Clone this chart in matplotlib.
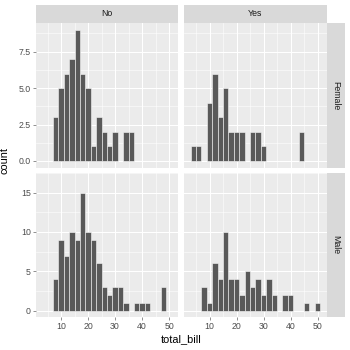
import numpy as np
import matplotlib
matplotlib.use("Agg")
import matplotlib.pyplot as plt

# histogram bins (binwidth 2, centred on even numbers)
bin_centers = np.arange(4, 52, 2)
col_labels = ["No", "Yes"]
row_labels = ["Female", "Male"]

female_no = [0, 0, 3, 5, 6, 7, 9, 6, 5, 1, 3, 2, 1, 2, 0, 2, 2, 0, 0, 0, 0, 0, 0, 0]
female_yes = [1, 1, 0, 4, 6, 3, 5, 2, 2, 2, 0, 2, 2, 1, 0, 0, 0, 0, 0, 0, 2, 0, 0, 0]
male_no = [0, 0, 4, 9, 7, 10, 9, 15, 10, 9, 6, 3, 2, 3, 3, 1, 0, 1, 1, 1, 0, 0, 3, 0]
male_yes = [0, 0, 3, 1, 6, 4, 10, 4, 4, 2, 5, 3, 4, 2, 4, 2, 0, 2, 2, 0, 0, 1, 0, 1]

counts = [[female_no, female_yes], [male_no, male_yes]]
y_ticks = [[0, 2.5, 5, 7.5], [0, 5, 10, 15]]
y_ticklabels = [["0.0", "2.5", "5.0", "7.5"], ["0", "5", "10", "15"]]
x_ticks = [10, 20, 30, 40, 50]

plt.rcParams['font.family'] = ['Liberation Sans', 'DejaVu Sans']

W = H = 350
fig = plt.figure(figsize=(W / 72, H / 72), dpi=72)
fig.patch.set_facecolor("white")

def box(x0, y0, x1, y1):
    # pixel box (top-left origin) -> figure fraction
    return [x0 / W, 1 - y1 / H, (x1 - x0) / W, (y1 - y0) / H]

col_x = [(35.7, 178.2), (184.2, 326.7)]
row_y = [(23.3, 167.5), (172.8, 316.7)]
binw = 2

for r in range(2):
    ymax = max(max(counts[r][0]), max(counts[r][1]))
    pad = ymax * 0.05
    for c in range(2):
        ax = fig.add_axes(box(col_x[c][0], row_y[r][0], col_x[c][1], row_y[r][1]))
        ax.set_facecolor("#EBEBEB")
        for s in ax.spines.values():
            s.set_visible(False)
        ax.bar(bin_centers, counts[r][c], width=binw, color="#595959",
               edgecolor="white", linewidth=0.5, zorder=3)
        ax.set_xlim(3 - 2.4, 51 + 2.4)
        ax.set_ylim(-pad, ymax + pad)
        ax.set_xticks(x_ticks)
        ax.set_xticks([5, 15, 25, 35, 45], minor=True)
        ax.set_yticks(y_ticks[r])
        step = y_ticks[r][1] - y_ticks[r][0]
        ax.set_yticks([v + step / 2 for v in y_ticks[r]], minor=True)
        ax.grid(which="major", color="white", linewidth=1.07, zorder=0)
        ax.grid(which="minor", color="white", linewidth=0.53, zorder=0)
        ax.set_axisbelow(True)
        ax.tick_params(which="major", length=2.75, width=0.53, color="#333333",
                       labelsize=8.8, labelcolor="#4D4D4D", pad=2.2)
        ax.tick_params(which="minor", length=0)
        if c == 0:
            ax.set_yticklabels(y_ticklabels[r])
        else:
            ax.tick_params(axis="y", which="major", length=0, labelleft=False)
        if r == 1:
            ax.set_xticklabels([str(v) for v in x_ticks])
        else:
            ax.tick_params(axis="x", which="major", length=0, labelbottom=False)

# column strips
for c in range(2):
    sax = fig.add_axes(box(col_x[c][0], 5.0, col_x[c][1], 22.7))
    sax.set_facecolor("#D9D9D9")
    sax.set_xticks([]); sax.set_yticks([])
    for s in sax.spines.values():
        s.set_visible(False)
    sax.text(0.5, 0.5, col_labels[c], ha="center", va="center",
             fontsize=8.8, color="#1A1A1A", transform=sax.transAxes)

# row strips
for r in range(2):
    sax = fig.add_axes(box(326.9, row_y[r][0], 344.6, row_y[r][1]))
    sax.set_facecolor("#D9D9D9")
    sax.set_xticks([]); sax.set_yticks([])
    for s in sax.spines.values():
        s.set_visible(False)
    sax.text(0.5, 0.5, row_labels[r], ha="center", va="center", rotation=-90,
             fontsize=8.8, color="#1A1A1A", transform=sax.transAxes)

fig.text(181 / W, 1 - 339.5 / H, "total_bill", ha="center", va="center", fontsize=11)
fig.text(5 / W, 1 - 161 / H, "count", ha="center", va="center", rotation=90, fontsize=11)

fig.savefig("out.png", dpi=72)
